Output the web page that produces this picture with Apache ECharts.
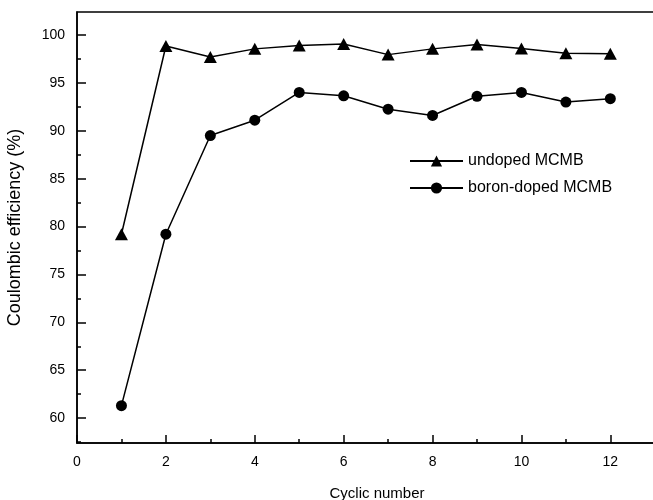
<!DOCTYPE html>
<html>
<head>
<meta charset="utf-8">
<script src="https://cdn.jsdelivr.net/npm/echarts@6/dist/echarts.min.js"></script>
<style>
  html, body { margin: 0; padding: 0; background: #fff; }
  #main { width: 653px; height: 500px; }
</style>
</head>
<body>
<div id="main"></div>
<script>
// cycle numbers and coulombic efficiency (%)
var cycles = [1, 2, 3, 4, 5, 6, 7, 8, 9, 10, 11, 12];
var undoped = [79.2, 98.85, 97.7, 98.55, 98.9, 99.05, 97.95, 98.55, 99.0, 98.6, 98.1, 98.05];
var boronDoped = [61.3, 79.2, 89.5, 91.1, 94.0, 93.65, 92.25, 91.6, 93.6, 94.0, 93.0, 93.35];

var xMajor = [0, 2, 4, 6, 8, 10, 12];
var xMinor = [1, 3, 5, 7, 9, 11, 13];
var yMajor = [60, 65, 70, 75, 80, 85, 90, 95, 100];
var yMinor = [57.5, 62.5, 67.5, 72.5, 77.5, 82.5, 87.5, 92.5, 97.5, 102.5];

var chart = echarts.init(document.getElementById('main'));

function pairs(vals) {
  var out = [];
  for (var i = 0; i < cycles.length; i++) {
    out.push([cycles[i], vals[i]]);
  }
  return out;
}

var font = 'Liberation Sans, Arial, sans-serif';

option = {
  backgroundColor: '#fff',
  animation: false,
  grid: {
    left: 77,
    top: 12,
    width: 600,
    bottom: 57,
    outerBoundsMode: 'none',
    containLabel: false,
    show: true,
    borderColor: '#000',
    borderWidth: 1.5,
    backgroundColor: 'transparent'
  },
  legend: {
    orient: 'vertical',
    left: 404,
    top: 148,
    itemWidth: 53,
    itemHeight: 14,
    itemGap: 11,
    textStyle: { color: '#000', fontSize: 16, fontFamily: font },
    data: ['undoped MCMB', 'boron-doped MCMB']
  },
  xAxis: [{
    type: 'value',
    min: 0,
    max: 13.5,
    name: 'Cyclic number',
    nameLocation: 'middle',
    nameGap: 43,
    nameTextStyle: { color: '#000', fontSize: 15, fontFamily: font },
    splitLine: { show: false },
    axisLine: { show: true, onZero: false, lineStyle: { color: '#000', width: 1.5 } },
    axisTick: { show: true, inside: true, length: 8, customValues: xMajor, lineStyle: { color: '#000', width: 1.5 } },
    axisLabel: { color: '#000', fontSize: 14, fontFamily: font, margin: 12, customValues: xMajor }
  }, {
    type: 'value',
    min: 0,
    max: 13.5,
    position: 'bottom',
    splitLine: { show: false },
    axisLine: { show: false },
    axisTick: { show: true, inside: true, length: 4, customValues: xMinor, lineStyle: { color: '#000', width: 1.5 } },
    axisLabel: { show: false }
  }],
  yAxis: [{
    type: 'value',
    min: 57.4,
    max: 102.4,
    name: 'Coulombic efficiency (%)',
    nameLocation: 'middle',
    nameGap: 53,
    nameTextStyle: { color: '#000', fontSize: 18, fontFamily: font },
    splitLine: { show: false },
    axisLine: { show: true, onZero: false, lineStyle: { color: '#000', width: 1.5 } },
    axisTick: { show: true, inside: true, length: 9, customValues: yMajor, lineStyle: { color: '#000', width: 1.5 } },
    axisLabel: { color: '#000', fontSize: 14, fontFamily: font, margin: 12, customValues: yMajor }
  }, {
    type: 'value',
    min: 57.4,
    max: 102.4,
    position: 'left',
    splitLine: { show: false },
    axisLine: { show: false },
    axisTick: { show: true, inside: true, length: 4, customValues: yMinor, lineStyle: { color: '#000', width: 1.5 } },
    axisLabel: { show: false }
  }],
  series: [{
    name: 'undoped MCMB',
    type: 'line',
    data: pairs(undoped),
    symbol: 'triangle',
    symbolSize: [13, 12],
    itemStyle: { color: '#000' },
    lineStyle: { color: '#000', width: 1.5 }
  }, {
    name: 'boron-doped MCMB',
    type: 'line',
    data: pairs(boronDoped),
    symbol: 'circle',
    symbolSize: 11,
    itemStyle: { color: '#000' },
    lineStyle: { color: '#000', width: 1.5 }
  }]
};

chart.setOption(option);
</script>
</body>
</html>
